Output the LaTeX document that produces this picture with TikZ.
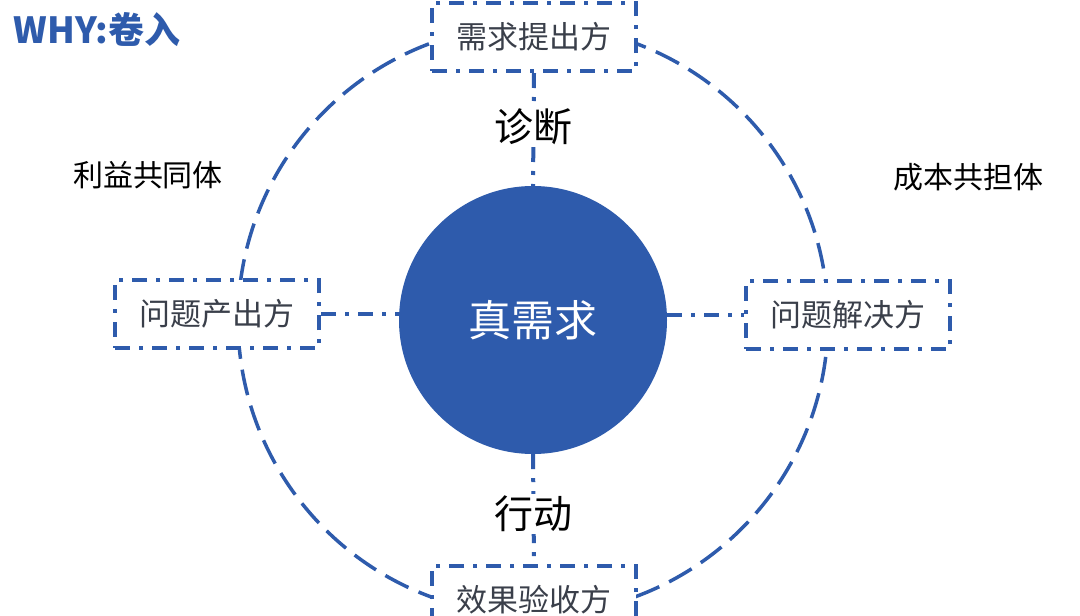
\documentclass[tikz,border=0pt]{standalone}
\usepackage{fontspec}
\setmainfont{Noto Sans CJK SC}
\definecolor{bl}{HTML}{2E5BAC}
\definecolor{tx}{HTML}{3A3F4A}
\begin{document}
\begin{tikzpicture}[x=1pt,y=-1pt,
  dd/.style={bl,line width=4pt,dash pattern=on 15pt off 9pt on 4pt off 9pt},
  bx/.style={dd,draw,minimum width=204pt,minimum height=68pt,text=tx,font=\fontsize{31}{34}\selectfont,inner sep=0pt},
  lab/.style={font=\fontsize{39}{42}\selectfont,text=black,fill=white,inner sep=2pt},
  side/.style={font=\fontsize{30}{34}\selectfont,text=black}]
\useasboundingbox (0,0) rectangle (1080,616);
\fill[white] (0,0) rectangle (1080,616);
\coordinate (c) at (533,320);
\draw[bl,line width=3.5pt,dash pattern=on 26pt off 11pt] (c) circle (295);
\node[circle,fill=bl,minimum size=268pt,inner sep=0pt,text=white,font=\fontsize{43}{46}\selectfont] (core) at (c) {真需求};
\node[bx,fill=white] (top) at (534,37) {需求提出方};
\node[bx,fill=white] (left) at (217,314) {问题产出方};
\node[bx,fill=white] (right) at (848,315) {问题解决方};
\node[bx,fill=white] (bot) at (534,600) {效果验收方};
\draw[dd] (top.south) -- (core.north);
\draw[dd] (core.south) -- (bot.north);
\draw[dd] (left.east) -- (left.east -| core.west);
\draw[dd] (right.west -| core.east) -- (right.west);
\node[lab] (zd) at (533,127) {诊断};
\node[lab] (xd) at (533,514) {行动};
\node[side] (ly) at (148,175) {利益共同体};
\node[side] (cb) at (968,177) {成本共担体};
\node[font=\fontsize{36}{40}\selectfont\bfseries,text=bl,anchor=west] (ti) at (10,30) {WHY:卷入};
\end{tikzpicture}
\end{document}
